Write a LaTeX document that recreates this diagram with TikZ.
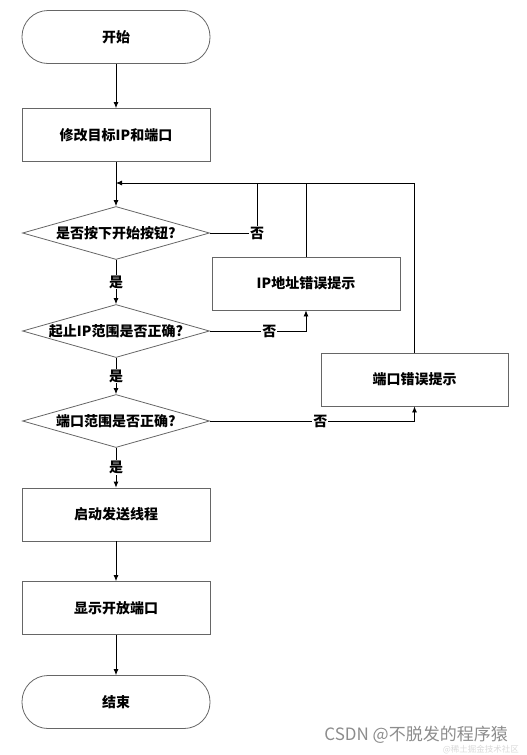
\documentclass[tikz,border=0pt]{standalone}
\usepackage{fontspec}
\setmainfont{Noto Sans CJK SC}
\usetikzlibrary{shapes.geometric,arrows.meta}
\begin{document}
\begin{tikzpicture}[x=1pt,y=-1pt,
  every node/.style={font=\fontsize{14}{16}\selectfont\bfseries},
  boxline/.style={draw=black!60, line width=0.8pt},
  term/.style={boxline, rounded corners=26pt, minimum width=188pt, minimum height=53pt, inner sep=0pt},
  proc/.style={boxline, minimum width=188pt, minimum height=53pt, inner sep=0pt},
  deci/.style={boxline, shape=diamond, aspect=3.5, minimum width=187pt, minimum height=53pt, inner sep=0pt},
  conn/.style={draw=black, line width=0.8pt},
  arr/.style={conn, -{Latex[length=6pt,width=5pt]}},
  lbl/.style={fill=white, inner sep=1pt}]
\useasboundingbox (0,0) rectangle (527,755);
\node[term] (start) at (116,37) {开始};
\node[proc] (b1) at (116,135) {修改目标IP和端口};
\coordinate (m) at (116,183);
\node[deci] (d1) at (116,233) {是否按下开始按钮?};
\node[proc] (ip) at (306,283.5) {IP地址错误提示};
\node[deci] (d2) at (116,331) {起止IP范围是否正确?};
\node[proc, minimum width=187pt] (port) at (414.5,379.5) {端口错误提示};
\node[deci] (d3) at (116,421) {端口范围是否正确?};
\node[proc] (b2) at (116,514.5) {启动发送线程};
\node[proc] (b3) at (116,608) {显示开放端口};
\node[term] (endn) at (116,702) {结束};
\coordinate (c1) at (257,233);
\draw[arr] (start) -- (b1);
\draw[arr] (b1) -- (d1);
\draw[arr] (port.north) |- (m);
\draw[conn] (ip.north) -- (ip.north |- m);
\draw[conn] (d1.east) -- (c1) node[lbl, pos=1] {否} -- (c1 |- m);
\draw[arr] (d1) -- node[lbl] {是} (d2);
\draw[arr] (d2.east) -| node[lbl, pos=0.31] {否} (ip.south);
\draw[arr] (d2) -- node[lbl] {是} (d3);
\draw[arr] (d3.east) -| node[lbl, pos=0.27] {否} (port.south);
\draw[arr] (d3) -- node[lbl] {是} (b2);
\draw[arr] (b2) -- (b3);
\draw[arr] (b3) -- (endn);
\node[font=\fontsize{17}{20}\selectfont, text=black!45, anchor=east, inner sep=0pt] (wm) at (508,735) {CSDN @不脱发的程序猿};
\node[font=\fontsize{8.5}{10}\selectfont, text=black!15, anchor=east, inner sep=0pt] (wm2) at (519,750) {@稀土掘金技术社区};
\end{tikzpicture}
\end{document}
